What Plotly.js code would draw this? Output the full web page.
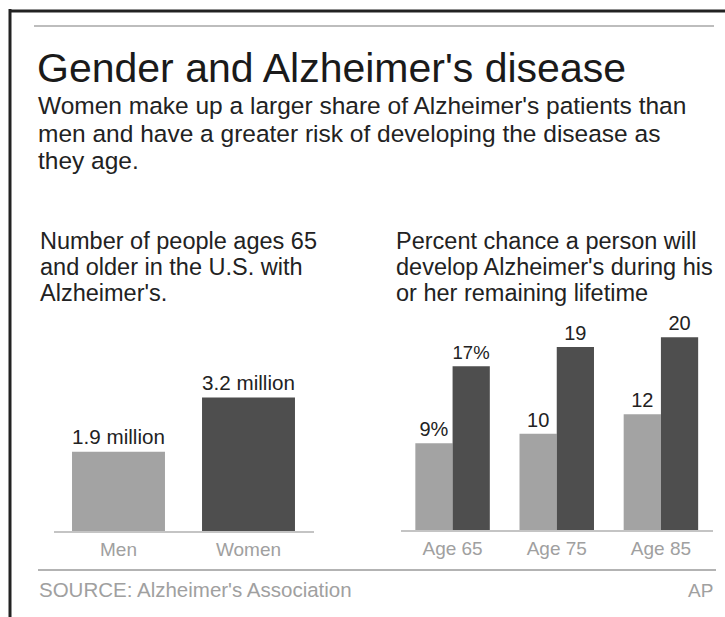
<!DOCTYPE html>
<html>
<head>
<meta charset="utf-8">
<script src="https://cdn.plot.ly/plotly-3.0.1.min.js"></script>
<style>
html,body{margin:0;padding:0;background:#fff;}
#chart{width:725px;height:617px;}
</style>
</head>
<body>
<div id="chart"></div>
<script>
// ---- data ----
const genderCats = ["Men", "Women"];
const genderValues = [1.9, 3.2];           // millions
const genderLabels = ["1.9 million", "3.2 million"];

const ageCats = ["Age 65", "Age 75", "Age 85"];
const menPct = [9, 10, 12];
const womenPct = [17, 19, 20];
const menPctLabels = ["9%", "10", "12"];
const womenPctLabels = ["17%", "19", "20"];

const title = "Gender and Alzheimer's disease";
const subtitleLines = [
  "Women make up a larger share of Alzheimer's patients than",
  "men and have a greater risk of developing the disease as",
  "they age."
];
const leftHeadLines = ["Number of people ages 65", "and older in the U.S. with", "Alzheimer's."];
const rightHeadLines = ["Percent chance a person will", "develop Alzheimer's during his", "or her remaining lifetime"];
const sourceText = "SOURCE: Alzheimer's Association";
const creditText = "AP";

// ---- layout helpers ----
const W = 725, H = 617;
const px = x => x / W;
const py = y => (H - y) / H;

const LIGHT = "#a3a3a3", DARK = "#4e4e4e";
const FONT = "Liberation Sans, Arial, sans-serif";

const traces = [
  {
    type: "bar", x: genderCats, y: genderValues,
    marker: {color: [LIGHT, DARK], line: {width: 0}},
    text: genderLabels, textposition: "outside", cliponaxis: false,
    textfont: {size: 22, color: "#222", family: FONT},
    xaxis: "x", yaxis: "y", hoverinfo: "skip"
  },
  {
    type: "bar", x: ageCats, y: menPct, name: "Men",
    marker: {color: LIGHT, line: {width: 0}},
    text: menPctLabels, textposition: "outside", cliponaxis: false,
    textfont: {size: 20, color: "#222", family: FONT},
    xaxis: "x2", yaxis: "y2", hoverinfo: "skip"
  },
  {
    type: "bar", x: ageCats, y: womenPct, name: "Women",
    marker: {color: DARK, line: {width: 0}},
    text: womenPctLabels, textposition: "outside", cliponaxis: false,
    textfont: {size: 20, color: "#222", family: FONT},
    xaxis: "x2", yaxis: "y2", hoverinfo: "skip"
  }
];

const annotations = [];
function addText(text, x, y, size, color, anchor) {
  annotations.push({
    text: text, xref: "paper", yref: "paper", x: px(x), y: py(y),
    xanchor: anchor || "left", yanchor: "middle", showarrow: false,
    font: {size: size, color: color, family: FONT}
  });
}
addText(title, 35, 68, 41, "#1a1a1a");
subtitleLines.forEach((t, i) => addText(t, 36, 106 + i * 27, 24.5, "#222"));
leftHeadLines.forEach((t, i) => addText(t, 38, 241 + i * 26, 23.5, "#222"));
rightHeadLines.forEach((t, i) => addText(t, 394, 241 + i * 26, 23.5, "#222"));
addText(sourceText, 37, 589, 20.5, "#a0a0a0");
addText(creditText, 715, 590, 19, "#a0a0a0", "right");

const shapes = [
  // frame
  {type: "line", xref: "paper", yref: "paper", x0: px(10), x1: px(10), y0: py(9), y1: py(617), line: {color: "#222", width: 3}},
  {type: "line", xref: "paper", yref: "paper", x0: px(9), x1: px(725), y0: py(11), y1: py(11), line: {color: "#222", width: 3}},
  // top rule
  {type: "line", xref: "paper", yref: "paper", x0: px(34), x1: px(714), y0: py(26), y1: py(26), line: {color: "#bdbdbd", width: 2}},
  // bottom rule
  {type: "line", xref: "paper", yref: "paper", x0: px(38), x1: px(716), y0: py(570), y1: py(570), line: {color: "#9a9a9a", width: 1.5}}
];

const tickFont = {size: 19, color: "#a0a0a0", family: FONT};

const layout = {
  width: W, height: H,
  margin: {l: 0, r: 0, t: 0, b: 0},
  paper_bgcolor: "#fff", plot_bgcolor: "rgba(0,0,0,0)",
  showlegend: false,
  barmode: "group", bargap: 0.285, bargroupgap: 0,
  font: {family: FONT},
  xaxis: {
    domain: [px(53.5), px(313.5)], anchor: "y",
    showline: true, linecolor: "#c4c4c4", linewidth: 2,
    ticks: "", showgrid: false, zeroline: false,
    tickfont: tickFont, fixedrange: true
  },
  yaxis: {
    domain: [py(531), py(364)], range: [0, 4], anchor: "x",
    visible: false, showgrid: false, zeroline: false, fixedrange: true
  },
  xaxis2: {
    domain: [px(400.5), px(713)], anchor: "y2",
    showline: true, linecolor: "#c4c4c4", linewidth: 2,
    ticks: "", showgrid: false, zeroline: false,
    tickfont: tickFont, fixedrange: true
  },
  yaxis2: {
    domain: [py(530), py(318)], range: [0, 22], anchor: "x2",
    visible: false, showgrid: false, zeroline: false, fixedrange: true
  },
  annotations: annotations,
  shapes: shapes
};

Plotly.newPlot("chart", traces, layout, {staticPlot: true, displayModeBar: false});
</script>
</body>
</html>
